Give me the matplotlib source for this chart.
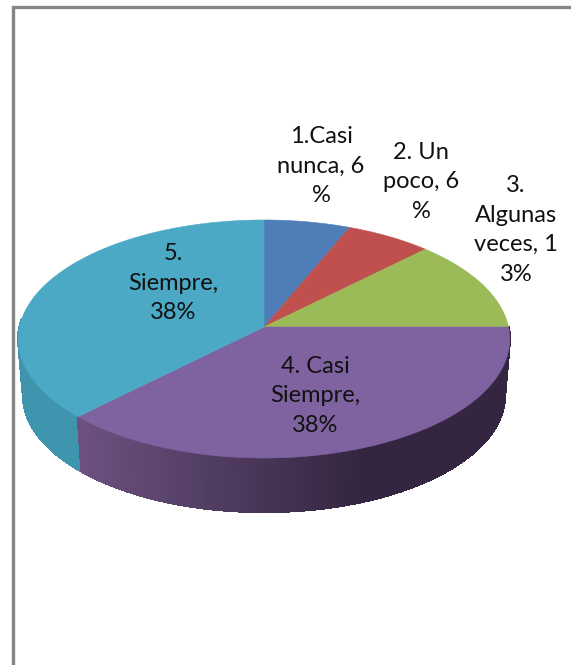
import numpy as np
import matplotlib
matplotlib.use("Agg")
import matplotlib.pyplot as plt
from matplotlib.patches import Polygon
from matplotlib.collections import PolyCollection
from matplotlib.colors import to_rgb

# --- data (slice shares as drawn, and their printed labels) ---
categories = ["1.Casi nunca", "2. Un poco", "3. Algunas veces", "4. Casi Siempre", "5. Siempre"]
shares = [6.25, 6.25, 12.5, 37.5, 37.5]
labels = ["1.Casi\nnunca, 6\n%", "2. Un\npoco, 6\n%", "3.\nAlgunas\nveces, 1\n3%",
          "4. Casi\nSiempre,\n38%", "5.\nSiempre,\n38%"]
colors = ["#4F7DB8", "#C0504D", "#9BBB59", "#7F62A0", "#4BA9C5"]
label_pos = [(321, 166), (421, 182), (516, 230), (315, 396), (173, 283)]

W, H = 571, 665
fig = plt.figure(figsize=(W / 100, H / 100), dpi=100, facecolor="white")
ax = fig.add_axes([0, 0, 1, 1])
ax.set_xlim(0, W)
ax.set_ylim(H, 0)
ax.axis("off")

# perspective disc model
CX, CY, A, B, K = 264.0, 327.0, 244.5, 117.8, 0.1008
DEPTH, SHRINK = 56.6, 0.98


def rim(theta, low=False):
    """theta: clockwise from 12 o'clock, radians."""
    u, v = np.sin(theta), np.cos(theta)
    w = 1 + K * v
    s = SHRINK if low else 1.0
    return (CX + s * A * u / w,
            CY + (DEPTH if low else 0.0) - s * B * v / w)


edges = 2 * np.pi * np.cumsum([0] + shares) / sum(shares)


def mix(c1, c2, t):
    return tuple((1 - t) * a + t * b for a, b in zip(c1, c2))


# side wall
side_purple_l, side_purple_d = to_rgb("#6C5180"), to_rgb("#342640")
side_teal = to_rgb("#3F95AD")
for i in (4, 3):
    th = np.linspace(edges[i], min(edges[i + 1], 1.52 * np.pi), 260)
    xt, yt = rim(th)
    xb, yb = rim(th, True)
    quads, cols = [], []
    for j in range(len(th) - 1):
        quads.append([(xt[j], yt[j]), (xt[j + 1], yt[j + 1]), (xb[j + 1], yb[j + 1]), (xb[j], yb[j])])
        if i == 3:
            t = np.clip((360.0 - xt[j]) / (360.0 - 79.0), 0, 1)
            cols.append(mix(side_purple_d, side_purple_l, t))
        else:
            cols.append(side_teal)
    ax.add_collection(PolyCollection(quads, facecolors=cols, edgecolors=cols, linewidths=1.0,
                                     antialiaseds=False, zorder=2))

# top face
for i, c in enumerate(colors):
    th = np.linspace(edges[i], edges[i + 1], 200)
    xs, ys = rim(th)
    pts = np.column_stack([np.r_[CX, xs], np.r_[CY, ys]])
    ax.add_patch(Polygon(pts, closed=True, facecolor=c, edgecolor=c, linewidth=0.4, zorder=3))

# labels
for txt, (x, y) in zip(labels, label_pos):
    ax.text(x, y, txt, ha="center", va="center", fontsize=17, family="Lato",
            color="#111111", linespacing=1.5, zorder=5)

# chart frame (only top and left visible in the crop)
ax.plot([13, 13, W], [H, 7, 7], color="#868686", lw=2.4, solid_joinstyle="miter", zorder=6)

fig.savefig("out.png", dpi=100, facecolor="white")
